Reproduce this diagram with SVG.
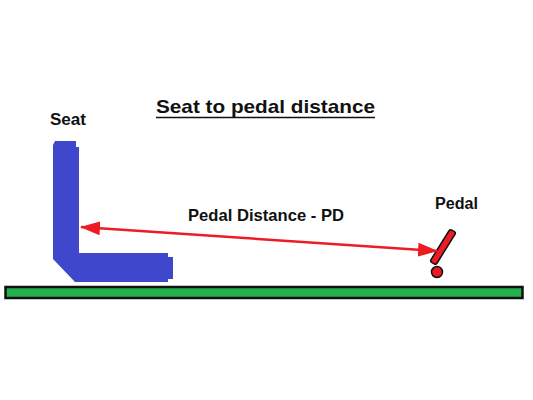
<svg xmlns="http://www.w3.org/2000/svg" width="533" height="400" viewBox="0 0 533 400">
<style>
text{font-family:"Liberation Sans",Arial,sans-serif;font-weight:bold;fill:#111}
.red{fill:#ed1c24;stroke:#111;stroke-width:1.5}
</style>
<defs>
<marker id="ah" viewBox="0 0 20 14" refX="19" refY="7" markerWidth="20" markerHeight="14" markerUnits="userSpaceOnUse" orient="auto-start-reverse">
<path d="M0,0 L20,7 L0,14 Z" fill="#ed1c24"/>
</marker>
</defs>
<rect width="533" height="400" fill="#fff"/>
<text x="156" y="113" font-size="19" textLength="219" lengthAdjust="spacingAndGlyphs">Seat to pedal distance</text>
<line x1="156" y1="117.5" x2="375" y2="117.5" stroke="#111" stroke-width="1.6"/>
<g id="ground">
<rect x="5.5" y="287" width="517" height="11" fill="#22b14c" stroke="#111" stroke-width="2.5"/>
</g>
<g id="seat">
<path d="M53,145 L55,141 L76,141 L76,147 L79,147 L79,253 L168,253 L168,257 L173,257 L173,279 L168,279 L168,282 L75,282 L53,259 Z" fill="#3f48cc"/>
<text x="50" y="125" font-size="16" textLength="36" lengthAdjust="spacingAndGlyphs">Seat</text>
</g>
<g id="pedal">
<rect x="-3.5" y="-19" width="7" height="38" rx="2" class="red" transform="translate(443,247) rotate(32)"/>
<circle cx="437" cy="272" r="5.5" class="red"/>
<text x="435" y="209" font-size="16" textLength="43" lengthAdjust="spacingAndGlyphs">Pedal</text>
</g>
<g id="connectors">
<line x1="81" y1="227" x2="437" y2="251" stroke="#ed1c24" stroke-width="2.5" marker-start="url(#ah)" marker-end="url(#ah)"/>
<text x="188" y="221" font-size="16.5" textLength="156" lengthAdjust="spacingAndGlyphs">Pedal Distance - PD</text>
</g>
</svg>
